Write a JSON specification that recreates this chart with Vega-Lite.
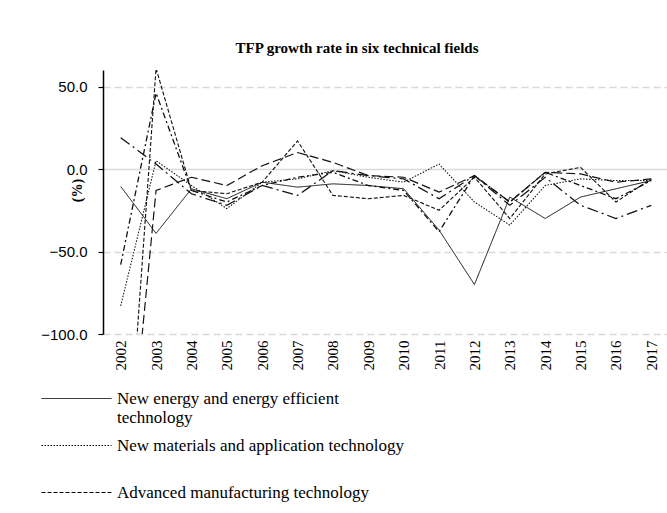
{
  "$schema": "https://vega.github.io/schema/vega-lite/v6.json",
  "width": 566,
  "height": 264,
  "autosize": {"type": "none"},
  "padding": {"left": 103, "top": 70, "right": 0, "bottom": 179},
  "background": "white",
  "title": {
    "text": "TFP growth rate in six technical fields",
    "font": "Liberation Serif",
    "fontSize": 15,
    "fontWeight": "bold",
    "color": "#000",
    "anchor": "middle",
    "dx": -29,
    "offset": 14
  },
  "datasets": {
    "wide": [
      {"year": "2002", "s1": -10.6, "s2": -83, "s3": -240, "s4": -235, "s5": 19, "s6": -58},
      {"year": "2003", "s1": -39, "s2": 5, "s3": 61, "s4": -13, "s5": 3, "s6": 46},
      {"year": "2004", "s1": -12, "s2": -10, "s3": -13, "s4": -5, "s5": -15, "s6": -13},
      {"year": "2005", "s1": -18, "s2": -24, "s3": -15, "s4": -10, "s5": -22, "s6": -20},
      {"year": "2006", "s1": -8, "s2": -8, "s3": -8, "s4": 2, "s5": -10, "s6": -10},
      {"year": "2007", "s1": -11, "s2": -6, "s3": 17, "s4": 10, "s5": -16, "s6": -5},
      {"year": "2008", "s1": -9, "s2": -1, "s3": -16, "s4": 4, "s5": -1, "s6": -2},
      {"year": "2009", "s1": -10, "s2": -5, "s3": -18, "s4": -4, "s5": -4, "s6": -10},
      {"year": "2010", "s1": -12, "s2": -8, "s3": -16, "s4": -5, "s5": -6, "s6": -13},
      {"year": "2011", "s1": -37, "s2": 3, "s3": -25, "s4": -14, "s5": -18, "s6": -38},
      {"year": "2012", "s1": -70, "s2": -20, "s3": -5, "s4": -4, "s5": -4, "s6": -4},
      {"year": "2013", "s1": -17, "s2": -34, "s3": -30, "s4": -20, "s5": -22, "s6": -20},
      {"year": "2014", "s1": -30, "s2": -10, "s3": -3, "s4": -2, "s5": -5, "s6": -2},
      {"year": "2015", "s1": -17, "s2": -6, "s3": 1, "s4": -3, "s5": -22, "s6": -10},
      {"year": "2016", "s1": -12, "s2": -7, "s3": -20, "s4": -8, "s5": -30, "s6": -18},
      {"year": "2017", "s1": -7, "s2": -7, "s3": -6, "s4": -6, "s5": -22, "s6": -7}
    ]
  },
  "data": {"name": "wide"},
  "transform": [
    {"fold": ["s1", "s2", "s3", "s4", "s5", "s6"], "as": ["key", "value"]},
    {"lookup": "key", "from": {"data": {"values": [
      {"key": "s1", "field": "New energy and energy efficient technology"},
      {"key": "s2", "field": "New materials and application technology"},
      {"key": "s3", "field": "Advanced manufacturing technology"},
      {"key": "s4", "field": "Field 4"},
      {"key": "s5", "field": "Field 5"},
      {"key": "s6", "field": "Field 6"}
    ]}, "key": "key", "fields": ["field"]}}
  ],
  "mark": {"type": "line", "clip": true, "color": "#111"},
  "encoding": {
    "x": {
      "field": "year",
      "type": "ordinal",
      "scale": {"type": "point", "padding": 0.5},
      "axis": {
        "title": null,
        "labelAngle": -90,
        "labelFont": "Liberation Serif",
        "labelFontSize": 15,
        "labelColor": "#000",
        "labelPadding": 6,
        "domain": false,
        "ticks": false,
        "grid": false
      }
    },
    "y": {
      "field": "value",
      "type": "quantitative",
      "scale": {"domain": [-100, 60], "nice": false, "zero": false},
      "axis": {
        "values": [-100, -50, 0, 50],
        "format": ".1f",
        "labelFont": "Liberation Sans",
        "labelFontSize": 15,
        "labelColor": "#000",
        "labelPadding": 11,
        "domainColor": "#000",
        "domainWidth": 1.5,
        "tickColor": "#000",
        "tickSize": 5,
        "tickWidth": 1.2,
        "grid": true,
        "gridColor": "#d9d9d9",
        "gridWidth": 1.5,
        "gridDash": {"condition": {"test": "datum.value == 0", "value": []}, "value": [7, 4]},
        "title": "(%)",
        "titleFont": "Liberation Serif",
        "titleFontSize": 14,
        "titleFontWeight": "bold",
        "titleColor": "#000",
        "titleAngle": 270,
        "titleX": -26,
        "titleY": 120,
        "titleAlign": "center",
        "titleBaseline": "middle"
      }
    },
    "strokeDash": {
      "field": "field",
      "type": "nominal",
      "scale": {
        "domain": ["New energy and energy efficient technology", "New materials and application technology", "Advanced manufacturing technology", "Field 4", "Field 5", "Field 6"],
        "range": [[1, 0], [1.5, 1.5], [4, 2], [9, 4], [11, 4, 2, 4], [6, 3, 2, 3]]
      },
      "legend": {
        "values": ["New energy and energy efficient technology", "New materials and application technology", "Advanced manufacturing technology"],
        "title": null,
        "orient": "none",
        "legendX": -35,
        "legendY": 320,
        "symbolType": "M-5,0H5",
        "symbolSize": 196,
        "symbolStrokeColor": "#000",
        "symbolStrokeWidth": 1.2,
        "labelFont": "Liberation Serif",
        "labelFontSize": 17,
        "labelColor": "#000",
        "labelLimit": 0,
        "labelOffset": 32,
        "rowPadding": 10,
        "labelExpr": "datum.label == 'New energy and energy efficient technology' ? ['New energy and energy efficient', 'technology'] : [datum.label, ' ']"
      }
    },
    "strokeWidth": {
      "field": "field",
      "type": "nominal",
      "scale": {
        "domain": ["New energy and energy efficient technology", "New materials and application technology", "Advanced manufacturing technology", "Field 4", "Field 5", "Field 6"],
        "range": [1, 1.3, 1.8, 2, 1.8, 1.8]
      },
      "legend": null
    }
  },
  "config": {
    "view": {"stroke": null}
  }
}
